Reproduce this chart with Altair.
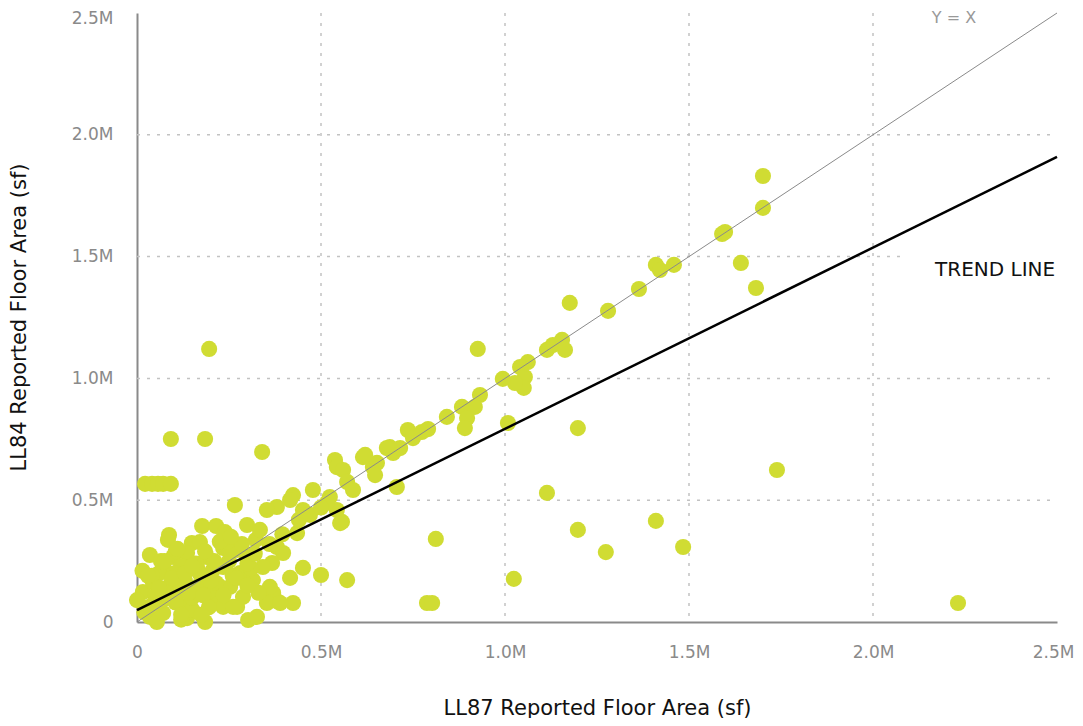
import altair as alt
import pandas as pd

# LL87 reported floor area (sf) vs LL84 reported floor area (sf)
ll87 = [2231000, 1739000, 1701000, 1701000, 1590000, 1598000, 1641000, 1682000, 1410000, 1421000,
        1459000, 1364000, 1280000, 1176000, 1114000, 1130000, 1155000, 1163000, 1062000, 1041000,
        1054000, 1051000, 1027000, 994000, 1198000, 1008000, 926000, 932000, 918000, 883000,
        897000, 891000, 842000, 791000, 736000, 750000, 687000, 696000, 715000, 706000,
        1114000, 1198000, 1410000, 1484000, 1274000, 812000, 1024000, 788000, 802000, 196000,
        92000, 185000, 340000, 22000, 41000, 57000, 71000, 92000, 266000, 679000,
        774000, 614000, 641000, 652000, 620000, 647000, 538000, 543000, 560000, 571000,
        587000, 478000, 424000, 380000, 416000, 451000, 524000, 543000, 557000, 516000,
        552000, 353000, 299000, 435000, 380000, 397000, 367000, 416000, 451000, 500000,
        571000, 356000, 380000, 424000, 370000, 302000, 326000, 185000, 136000, 35000,
        54000, 16000, 0, 43000, 87000, 84000, 177000, 215000, 239000, 35000,
        149000, 171000, 98000, 136000, 190000, 234000, 272000, 299000, 280000, 315000,
        253000, 206000, 163000, 117000, 82000, 125000, 234000, 272000, 71000, 71000,
        206000, 226000, 342000, 361000, 90000, 163000, 234000, 288000, 261000, 353000,
        389000, 323000, 334000, 50000, 110000, 150000, 190000, 120000, 60000, 250000,
        310000, 330000, 28000, 200000, 150000, 20000, 45000, 75000, 105000, 140000,
        180000, 215000, 260000, 300000, 40000, 100000, 130000, 170000, 210000, 250000,
        285000, 320000, 360000, 395000, 440000, 470000, 500000, 105000, 65000, 15000,
        245000, 195000, 120000, 60000, 95000, 130000, 160000, 200000, 235000, 270000,
        75000, 110000, 150000, 185000, 225000, 255000, 30000, 120000, 175000, 300000]
ll84 = [78000, 624000, 1831000, 1700000, 1593000, 1601000, 1474000, 1371000, 1466000, 1445000,
        1466000, 1367000, 1277000, 1310000, 1117000, 1137000, 1158000, 1117000, 1067000, 1047000,
        1006000, 961000, 981000, 998000, 796000, 817000, 1121000, 932000, 883000, 883000,
        837000, 796000, 842000, 792000, 788000, 755000, 718000, 694000, 714000, 554000,
        530000, 378000, 415000, 308000, 287000, 341000, 177000, 78000, 78000, 1121000,
        751000, 751000, 698000, 567000, 567000, 567000, 567000, 567000, 480000, 714000,
        780000, 677000, 636000, 653000, 686000, 603000, 665000, 636000, 624000, 575000,
        542000, 542000, 521000, 472000, 501000, 460000, 513000, 460000, 411000, 489000,
        406000, 460000, 398000, 365000, 308000, 283000, 242000, 181000, 222000, 193000,
        172000, 103000, 86000, 78000, 119000, 8000, 21000, 0, 16000, 21000,
        0, 123000, 90000, 164000, 357000, 337000, 394000, 394000, 369000, 275000,
        324000, 328000, 267000, 283000, 267000, 304000, 296000, 267000, 201000, 172000,
        144000, 90000, 144000, 172000, 103000, 62000, 62000, 62000, 37000, 226000,
        213000, 144000, 226000, 144000, 152000, 226000, 226000, 103000, 62000, 78000,
        78000, 337000, 378000, 110000, 120000, 50000, 180000, 230000, 200000, 250000,
        220000, 120000, 60000, 130000, 100000, 40000, 75000, 95000, 80000, 120000,
        110000, 160000, 190000, 240000, 190000, 200000, 170000, 200000, 250000, 290000,
        320000, 280000, 320000, 360000, 420000, 440000, 470000, 290000, 250000, 210000,
        330000, 60000, 10000, 140000, 180000, 200000, 240000, 170000, 110000, 180000,
        250000, 300000, 230000, 290000, 330000, 350000, 190000, 30000, 30000, 150000]

# reference lines
identity_x = [0, 2500000]
identity_y = [0, 2500000]
trend_x = [0, 2500000]
trend_y = [49000, 1909000]

# gridlines
vgrid = [500000, 1000000, 1500000, 2000000]
hgrid = [500000, 1000000, 1500000, 2000000]
hgrid_end = [2500000, 2500000, 2092000, 2500000]

# annotations
ann_text = ["Y = X", "TREND LINE"]
ann_x = [2220000, 2495000]
ann_y = [2459000, 1420000]

FONT = "DejaVu Sans"
GRAY = "#8a8a8a"
dom = [0, 2500000]
ticks = [0, 500000, 1000000, 1500000, 2000000, 2500000]
lab = "datum.value == 0 ? '0' : format(datum.value / 1000000, '.1f') + 'M'"

pts = pd.DataFrame({"x": ll87, "y": ll84})

xscale = alt.Scale(domain=dom, nice=False, zero=True)
yscale = alt.Scale(domain=dom, nice=False, zero=True)

xaxis = alt.Axis(values=ticks, labelExpr=lab, grid=False, ticks=False, tickSize=0,
                 domainColor=GRAY, domainWidth=2, labelColor=GRAY, labelFont=FONT,
                 labelFontSize=17, labelPadding=22, labelFlush=False,
                 labelAlign={"condition": {"test": "datum.value >= 2500000", "value": "right"}, "value": "center"},
                 labelOffset={"condition": {"test": "datum.value >= 2500000", "value": 17}, "value": 0},
                 title="LL87 Reported Floor Area (sf)", titleFont=FONT, titleFontSize=21,
                 titleFontWeight="normal", titleColor="#111111", titleX=460, titleY=92,
                 titleAlign="center", titleBaseline="alphabetic")
yaxis = alt.Axis(values=ticks, labelExpr=lab, grid=False, ticks=False, tickSize=0,
                 domainColor=GRAY, domainWidth=2, labelColor=GRAY, labelFont=FONT,
                 labelFontSize=17, labelPadding=24,
                 labelBaseline={"condition": {"test": "datum.value >= 2500000", "value": "top"}, "value": "middle"},
                 labelOffset={"condition": {"test": "datum.value >= 2500000", "value": -3}, "value": 0},
                 title="LL84 Reported Floor Area (sf)", titleFont=FONT, titleFontSize=21,
                 titleFontWeight="normal", titleColor="#111111", titleX=-118, titleY=304,
                 titleAngle=-90, titleAlign="center", titleBaseline="middle")

vg = alt.Chart(pd.DataFrame({"v": vgrid})).mark_rule(
    color="#c2c2c2", strokeWidth=1.5, strokeDash=[3, 7]
).encode(x=alt.X("v:Q", scale=xscale, axis=xaxis))

hg = alt.Chart(pd.DataFrame({"v": hgrid, "x0": [0] * len(hgrid), "x1": hgrid_end})).mark_rule(
    color="#c2c2c2", strokeWidth=1.5, strokeDash=[3, 7]
).encode(y=alt.Y("v:Q", scale=yscale, axis=yaxis),
         x=alt.X("x0:Q", scale=xscale, axis=xaxis), x2="x1:Q")

points = alt.Chart(pts).mark_circle(size=260, color="#d0dc33", opacity=1).encode(
    x=alt.X("x:Q", scale=xscale, axis=xaxis),
    y=alt.Y("y:Q", scale=yscale, axis=yaxis),
)

ident = alt.Chart(pd.DataFrame({"x": identity_x, "y": identity_y})).mark_line(
    color=GRAY, strokeWidth=1
).encode(x=alt.X("x:Q", scale=xscale, axis=xaxis), y=alt.Y("y:Q", scale=yscale, axis=yaxis))

trend = alt.Chart(pd.DataFrame({"x": trend_x, "y": trend_y})).mark_line(
    color="#000000", strokeWidth=2.5
).encode(x=alt.X("x:Q", scale=xscale, axis=xaxis), y=alt.Y("y:Q", scale=yscale, axis=yaxis))

ann = pd.DataFrame({"t": ann_text, "x": ann_x, "y": ann_y})
t1 = alt.Chart(ann.iloc[[0]]).mark_text(
    font=FONT, fontSize=16, color="#999999", align="center", baseline="alphabetic"
).encode(x=alt.X("x:Q", scale=xscale, axis=xaxis), y=alt.Y("y:Q", scale=yscale, axis=yaxis), text="t:N")
t2 = alt.Chart(ann.iloc[[1]]).mark_text(
    font=FONT, fontSize=20, color="#111111", align="right", baseline="alphabetic"
).encode(x=alt.X("x:Q", scale=xscale, axis=xaxis), y=alt.Y("y:Q", scale=yscale, axis=yaxis), text="t:N")

chart = alt.layer(vg, hg, points, ident, trend, t1, t2).properties(
    width=920, height=609,
    background="white",
    autosize=alt.AutoSizeParams(type="none"),
    padding={"left": 129, "top": 5, "right": 18, "bottom": 96},
).configure_view(strokeWidth=0)

chart.save("out.html", embed_options={"renderer": "svg", "actions": False})
